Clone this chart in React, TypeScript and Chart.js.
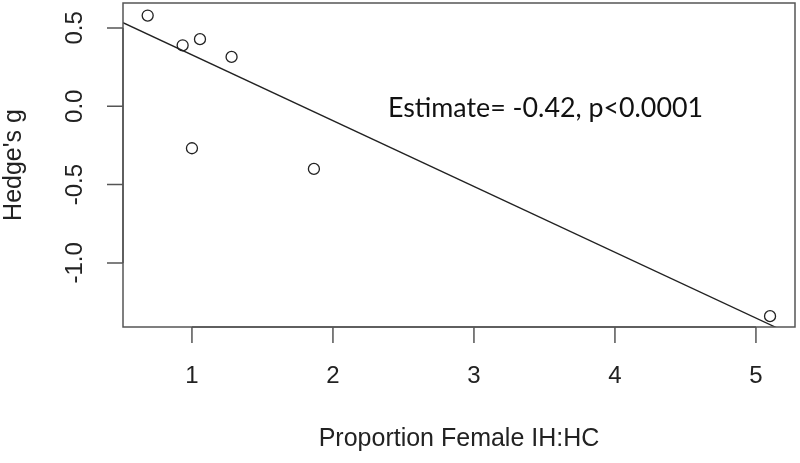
import React, { useEffect, useRef } from "react";
import { Chart, registerables } from "chart.js";

Chart.register(...registerables);

// Data
const proportionFemale = [0.686, 0.934, 1.057, 1.281, 1.0, 1.865, 5.1];
const hedgesG = [0.579, 0.389, 0.428, 0.315, -0.268, -0.4, -1.34];
const fitIntercept = 0.748;
const fitSlope = -0.42;
const xTickValues = [1, 2, 3, 4, 5];
const yTickValues = [-1.0, -0.5, 0.0, 0.5];
const xTickLabels = ["1", "2", "3", "4", "5"];
const yTickLabels = ["-1.0", "-0.5", "0.0", "0.5"];
const xTitle = "Proportion Female IH:HC";
const yTitle = "Hedge's g";
const annotationText = "Estimate= -0.42, p<0.0001";

const X_MIN = 0.511;
const X_MAX = 5.277;
const Y_MIN = -1.409;
const Y_MAX = 0.659;
const ANNOT_X = 2.39;
const ANNOT_Y = -0.07;

const AXIS_FONT = '"Liberation Sans", Arial, sans-serif';

const rPlot = {
  id: "rPlot",
  afterDraw(chart: any) {
    const { ctx, chartArea } = chart;
    const xs = chart.scales.x;
    const ys = chart.scales.y;
    const { left, right, top, bottom } = chartArea;
    ctx.save();
    ctx.strokeStyle = "#555";
    ctx.lineWidth = 1.5;
    ctx.strokeRect(left, top, right - left, bottom - top);
    ctx.beginPath();
    ctx.moveTo(xs.getPixelForValue(xTickValues[0]), bottom);
    ctx.lineTo(xs.getPixelForValue(xTickValues[xTickValues.length - 1]), bottom);
    xTickValues.forEach((v) => {
      const px = xs.getPixelForValue(v);
      ctx.moveTo(px, bottom);
      ctx.lineTo(px, bottom + 16);
    });
    ctx.moveTo(left, ys.getPixelForValue(yTickValues[0]));
    ctx.lineTo(left, ys.getPixelForValue(yTickValues[yTickValues.length - 1]));
    yTickValues.forEach((v) => {
      const py = ys.getPixelForValue(v);
      ctx.moveTo(left, py);
      ctx.lineTo(left - 16, py);
    });
    ctx.stroke();

    ctx.fillStyle = "#222";
    ctx.font = `24px ${AXIS_FONT}`;
    ctx.textAlign = "center";
    ctx.textBaseline = "middle";
    xTickValues.forEach((v, i) => {
      ctx.fillText(xTickLabels[i], xs.getPixelForValue(v), bottom + 49);
    });
    yTickValues.forEach((v, i) => {
      const py = ys.getPixelForValue(v);
      ctx.save();
      ctx.translate(left - 48, py);
      ctx.rotate(-Math.PI / 2);
      ctx.fillText(yTickLabels[i], 0, 0);
      ctx.restore();
    });
    ctx.font = `25px ${AXIS_FONT}`;
    ctx.fillText(xTitle, (left + right) / 2, bottom + 112);
    ctx.save();
    ctx.translate(14, (top + bottom) / 2);
    ctx.rotate(-Math.PI / 2);
    ctx.fillText(yTitle, 0, 0);
    ctx.restore();

    ctx.font = `26.8px Lato, "Open Sans", sans-serif`;
    ctx.textAlign = "left";
    ctx.textBaseline = "alphabetic";
    ctx.fillStyle = "#111";
    ctx.fillText(annotationText, xs.getPixelForValue(ANNOT_X), ys.getPixelForValue(ANNOT_Y));
    ctx.restore();
  },
};

export default function App() {
  const ref = useRef<HTMLCanvasElement | null>(null);
  useEffect(() => {
    if (!ref.current) return;
    const points = proportionFemale.map((x, i) => ({ x, y: hedgesG[i] }));
    const fitLine = [X_MIN, X_MAX].map((x) => ({ x, y: fitIntercept + fitSlope * x }));
    const chart = new Chart(ref.current, {
      type: "scatter",
      data: {
        datasets: [
          {
            type: "line",
            data: fitLine,
            borderColor: "#222",
            borderWidth: 1.3,
            pointRadius: 0,
            fill: false,
            clip: 0,
          } as any,
          {
            data: points,
            pointStyle: "circle",
            pointRadius: 5.5,
            borderWidth: 1.3,
            borderColor: "#222",
            backgroundColor: "rgba(0,0,0,0)",
            clip: false,
          } as any,
        ],
      },
      options: {
        responsive: false,
        animation: false,
        devicePixelRatio: 1,
        layout: { autoPadding: false, padding: { top: 3, right: 5, left: 0, bottom: 0 } },
        plugins: { legend: { display: false }, tooltip: { enabled: false } },
        scales: {
          x: {
            type: "linear",
            min: X_MIN,
            max: X_MAX,
            grid: { display: false },
            border: { display: false },
            ticks: { display: false },
            afterFit: (s: any) => {
              s.height = 136;
            },
          },
          y: {
            type: "linear",
            min: Y_MIN,
            max: Y_MAX,
            grid: { display: false },
            border: { display: false },
            ticks: { display: false },
            afterFit: (s: any) => {
              s.width = 123;
            },
          },
        },
      },
      plugins: [rPlot],
    });
    return () => chart.destroy();
  }, []);
  return (
    <div style={{ position: "absolute", left: 0, top: 0, width: 800, height: 463, background: "#fff" }}>
      <canvas ref={ref} width={800} height={463} />
    </div>
  );
}
